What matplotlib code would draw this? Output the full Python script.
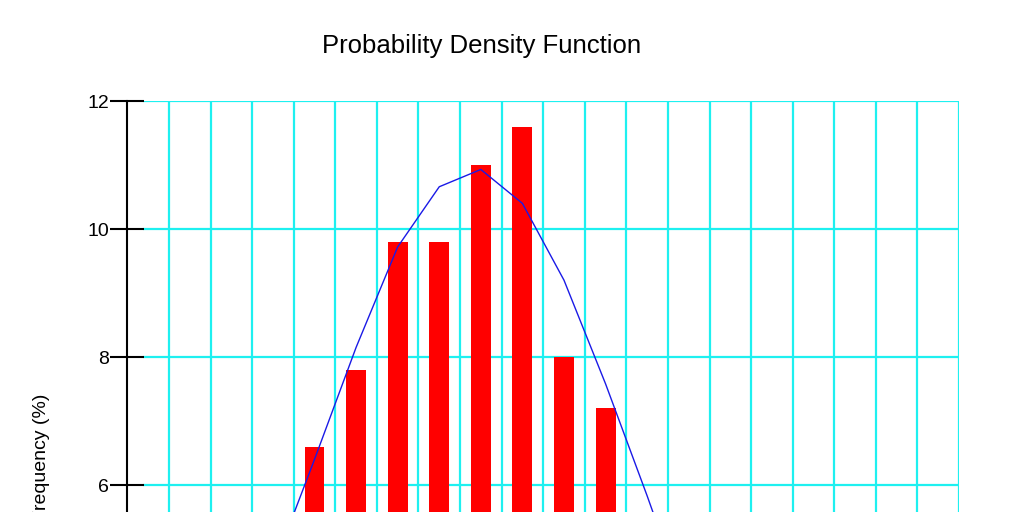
import numpy as np
import matplotlib.pyplot as plt

# bin index (bin edges are 0..19), observed frequency in %
bar_bins = [3, 4, 5, 6, 7, 8, 9, 10]
bar_freq = [6.6, 7.8, 9.8, 9.8, 11.0, 11.6, 8.0, 7.2]

# fitted pdf sampled at bin centres
pdf_bins = [2, 3, 4, 5, 6, 7, 8, 9, 10, 11, 12]
pdf_vals = [4.7, 6.4, 8.15, 9.72, 10.66, 10.93, 10.40, 9.20, 7.58, 5.83, 4.0]

y_ticks = [0, 2, 4, 6, 8, 10, 12]
n_bins = 19

plt.rcParams['font.family'] = ['Liberation Sans', 'DejaVu Sans']

fig = plt.figure(figsize=(10.24, 5.12), dpi=100)
# plot area runs below the bottom of the picture (the view is cropped)
ax = fig.add_axes([143 / 1024, 1 - 869 / 512, 816 / 1024, 768 / 512])

x_bar = np.array(bar_bins) + 0.5
x_pdf = np.array(pdf_bins) + 0.5
ax.bar(x_bar, bar_freq, width=0.48, color='#ff0000', zorder=3)
ax.plot(x_pdf, pdf_vals, color='#1a1ae6', lw=1.0, zorder=4)

ax.set_xlim(-26 / 41.6, n_bins)
ax.set_ylim(0, 12)
ax.set_xticks(np.arange(0, n_bins + 1))
ax.set_yticks(y_ticks)
ax.grid(True, color='#1ef0f0', lw=1.6, zorder=0)

for s in ['top', 'right', 'bottom']:
    ax.spines[s].set_visible(False)
ax.spines['left'].set_position(('outward', 11.5))
ax.spines['left'].set_linewidth(1.5)
ax.tick_params(axis='y', direction='inout', length=24, width=1.5, pad=1,
               labelsize=14)
ax.tick_params(axis='x', length=0, labelbottom=False)

fig.text(482 / 1024, 1 - 46 / 512, 'Probability Density Function',
         ha='center', va='center', fontsize=18.5)
fig.text(42 / 1024, 1 - 394 / 512, 'Frequency (%)', rotation=90,
         ha='center', va='top', fontsize=14)

fig.savefig('out.png', dpi=100)
